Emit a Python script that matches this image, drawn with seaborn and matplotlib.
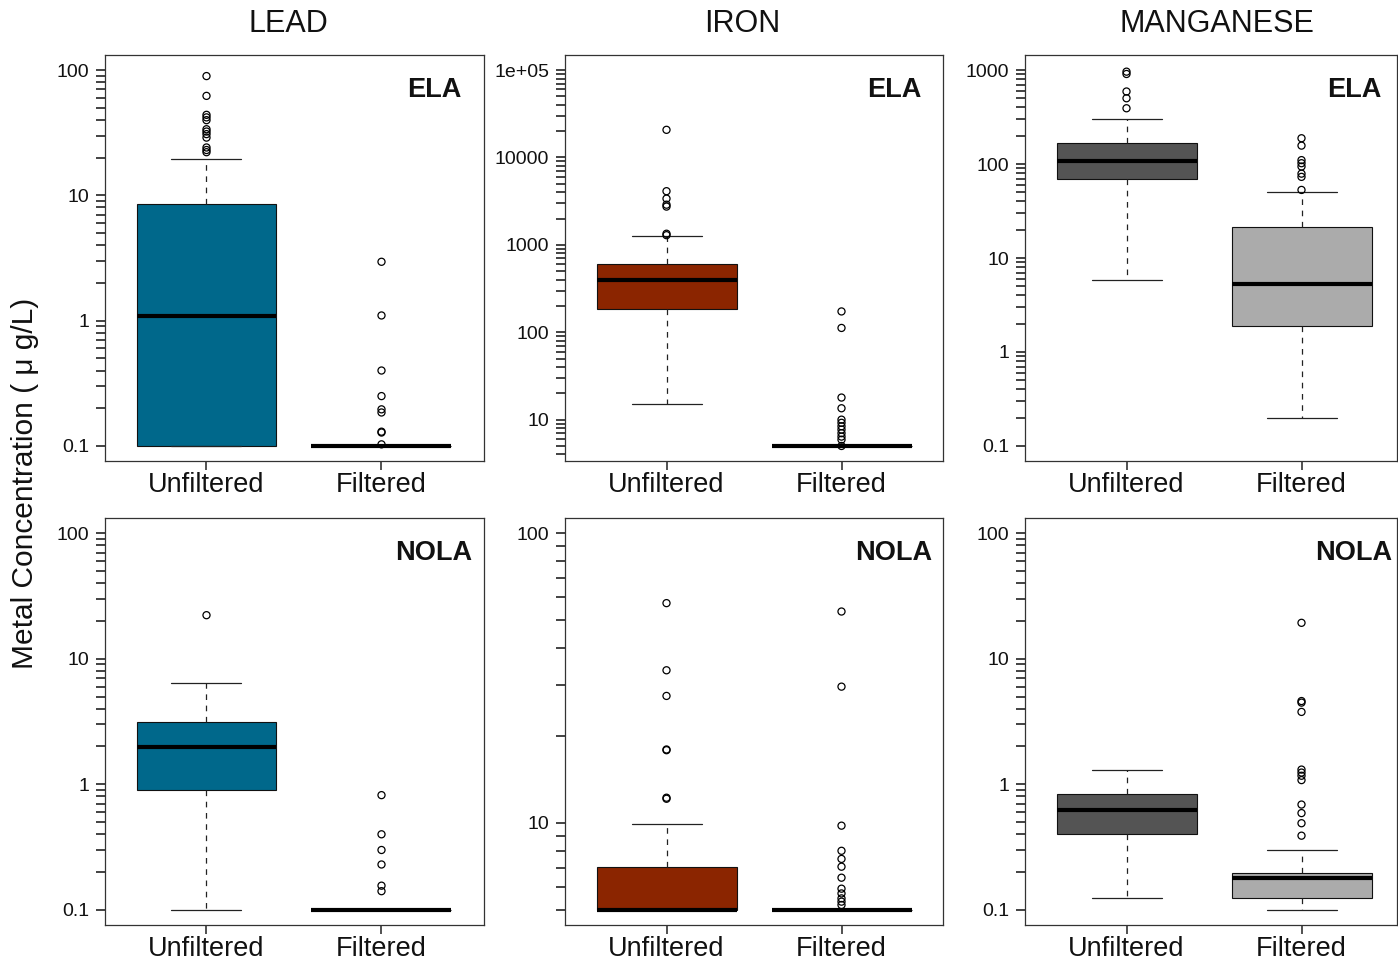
import numpy as np
import matplotlib
matplotlib.use("Agg")
import matplotlib.pyplot as plt
import matplotlib.ticker as mticker
import matplotlib.transforms as mtransforms
import seaborn as sns

# ---------------- data ----------------
categories = ["Unfiltered", "Filtered"]
metals = ["LEAD", "IRON", "MANGANESE"]
sites = ["ELA", "NOLA"]

# box statistics: [lower whisker, Q1, median, Q3, upper whisker]  (ug/L)
lead_ela_unf = [0.1, 0.1, 1.08, 8.6, 19.4]
lead_ela_unf_out = [89.5, 62.2, 43.9, 41.9, 39.8, 33.7, 32.3, 30.8, 28.9, 24.1, 23.0, 22.1]
lead_ela_fil = [0.1, 0.1, 0.1, 0.1, 0.1]
lead_ela_fil_out = [2.95, 1.1, 0.40, 0.25, 0.196, 0.185, 0.13, 0.128, 0.103]

iron_ela_unf = [15, 184, 396, 611, 1268]
iron_ela_unf_out = [20700, 4110, 3380, 2880, 2740, 1340, 1290]
iron_ela_fil = [5, 5, 5, 5, 5]
iron_ela_fil_out = [173, 112, 17.9, 13.5, 10, 9.2, 8.4, 7.7, 7.0, 6.4, 5.9, 5.0]

mn_ela_unf = [5.8, 69, 109, 169, 298]
mn_ela_unf_out = [961, 908, 591, 501, 392]
mn_ela_fil = [0.197, 1.9, 5.25, 21.5, 49.9]
mn_ela_fil_out = [188, 157, 110, 102, 94, 79, 73, 53]

lead_nola_unf = [0.1, 0.9, 1.98, 3.16, 6.46]
lead_nola_unf_out = [22.2]
lead_nola_fil = [0.1, 0.1, 0.1, 0.1, 0.1]
lead_nola_fil_out = [0.82, 0.40, 0.30, 0.23, 0.156, 0.141]

iron_nola_unf = [5, 5, 5, 7.05, 9.9]
iron_nola_unf_out = [57.3, 33.6, 27.4, 17.9, 17.8, 12.2, 12.1]
iron_nola_fil = [5, 5, 5, 5, 5]
iron_nola_fil_out = [53.6, 29.5, 9.77, 8.0, 7.5, 7.05, 6.46, 5.92, 5.7, 5.48, 5.34, 5.2]

mn_nola_unf = [0.124, 0.40, 0.63, 0.84, 1.30]
mn_nola_unf_out = []
mn_nola_fil = [0.1, 0.124, 0.178, 0.197, 0.30]
mn_nola_fil_out = [19.3, 4.6, 4.47, 3.77, 1.31, 1.24, 1.17, 1.08, 0.69, 0.59, 0.49, 0.39]

panel_stats = {
    ("ELA", "LEAD"): [(lead_ela_unf, lead_ela_unf_out), (lead_ela_fil, lead_ela_fil_out)],
    ("ELA", "IRON"): [(iron_ela_unf, iron_ela_unf_out), (iron_ela_fil, iron_ela_fil_out)],
    ("ELA", "MANGANESE"): [(mn_ela_unf, mn_ela_unf_out), (mn_ela_fil, mn_ela_fil_out)],
    ("NOLA", "LEAD"): [(lead_nola_unf, lead_nola_unf_out), (lead_nola_fil, lead_nola_fil_out)],
    ("NOLA", "IRON"): [(iron_nola_unf, iron_nola_unf_out), (iron_nola_fil, iron_nola_fil_out)],
    ("NOLA", "MANGANESE"): [(mn_nola_unf, mn_nola_unf_out), (mn_nola_fil, mn_nola_fil_out)],
}

# axis ranges (data limits), labelled ticks, minor tick span
axis_cfg = {
    ("ELA", "LEAD"): ((0.1, 100), [0.1, 1, 10, 100], ["0.1", "1", "10", "100"], (0.1, 100)),
    ("ELA", "IRON"): ((5, 1e5), [10, 100, 1000, 10000, 1e5], ["10", "100", "1000", "10000", "1e+05"], (4, 1e5)),
    ("ELA", "MANGANESE"): ((0.1, 1000), [0.1, 1, 10, 100, 1000], ["0.1", "1", "10", "100", "1000"], (0.1, 1000)),
    ("NOLA", "LEAD"): ((0.1, 100), [0.1, 1, 10, 100], ["0.1", "1", "10", "100"], (0.1, 100)),
    ("NOLA", "IRON"): ((5, 100), [10, 100], ["10", "100"], (5, 100)),
    ("NOLA", "MANGANESE"): ((0.1, 100), [0.1, 1, 10, 100], ["0.1", "1", "10", "100"], (0.1, 100)),
}

metal_colors = {
    "LEAD": ["#00688B", "#00688B"],
    "IRON": ["#8B2500", "#8B2500"],
    "MANGANESE": ["#545454", "#ABABAB"],
}

# ---------------- style ----------------
sns.set_theme(style="ticks")
plt.rcParams["font.family"] = ["Liberation Sans", "DejaVu Sans"]

W, H = 1398, 960
fig = plt.figure(figsize=(W / 100, H / 100), dpi=100)

col_left = [105, 565, 1025]
col_right = [484, 943, 1397]
row_top = [55, 518]
row_bottom = [461, 925]
px_per_unit = 175.0
title_x = [288, 742, 1217]


def minor_ticks(lo, hi):
    out = []
    for d in range(int(np.floor(np.log10(lo))) - 1, int(np.ceil(np.log10(hi))) + 1):
        for k in range(2, 10):
            v = k * 10.0 ** d
            if lo * 0.999 <= v <= hi * 1.001:
                out.append(v)
    return out


positions = [1, 2]
for r, site in enumerate(sites):
    for c, metal in enumerate(metals):
        l, rt = col_left[c], col_right[c]
        t, b = row_top[r], row_bottom[r]
        ax = fig.add_axes([l / W, 1 - b / H, (rt - l) / W, (b - t) / H])
        ax.set_yscale("log")

        stats = []
        fx, fy = [], []
        for i, (s, outl) in enumerate(panel_stats[(site, metal)]):
            stats.append(dict(whislo=s[0], q1=s[1], med=s[2], q3=s[3], whishi=s[4], fliers=[]))
            fx += [positions[i]] * len(outl)
            fy += list(outl)

        bp = ax.bxp(stats, positions=positions, widths=0.8, capwidths=0.4,
                    patch_artist=True, showfliers=False,
                    boxprops=dict(edgecolor="#111111", linewidth=0.8),
                    medianprops=dict(color="black", linewidth=3.0, solid_capstyle="butt"),
                    whiskerprops=dict(color="#222222", linewidth=0.9, linestyle=(0, (4.5, 4.5))),
                    capprops=dict(color="#222222", linewidth=0.9))
        for patch, col in zip(bp["boxes"], metal_colors[metal]):
            patch.set_facecolor(col)

        if len(fy):
            sns.scatterplot(x=fx, y=fy, ax=ax, marker="o", s=26, facecolor="none",
                            edgecolor="black", linewidth=0.9, zorder=5, legend=False)

        (lo, hi), majors, labels, (mlo, mhi) = axis_cfg[(site, metal)]
        span = np.log10(hi) - np.log10(lo)
        ax.set_ylim(10 ** (np.log10(lo) - 0.04 * span), 10 ** (np.log10(hi) + 0.04 * span))
        ax.set_xlim(0.42, 0.42 + (rt - l) / px_per_unit)

        ax.yaxis.set_major_locator(mticker.FixedLocator(majors))
        ax.yaxis.set_major_formatter(mticker.FixedFormatter(labels))
        ax.yaxis.set_minor_locator(mticker.FixedLocator(minor_ticks(mlo, mhi)))
        ax.yaxis.set_minor_formatter(mticker.NullFormatter())
        ax.set_xticks(positions)
        ax.set_xticklabels(categories)

        ax.tick_params(axis="y", which="both", left=True, direction="out", length=6.5,
                       width=1.2, color="#222222", pad=5, labelsize=14, labelcolor="#111111")
        ax.tick_params(axis="x", which="major", bottom=True, direction="out", length=6.5,
                       width=1.1, color="#222222", pad=1.5, labelsize=19.5, labelcolor="#111111")
        ax.tick_params(axis="x", which="minor", bottom=False)
        for sp in ax.spines.values():
            sp.set_visible(True)
            sp.set_color("#333333")
            sp.set_linewidth(0.9)
        ax.set_xlabel("")
        ax.set_ylabel("")

        trans = mtransforms.blended_transform_factory(ax.transData, ax.transAxes)
        ax.text(2.3, 0.897, site, transform=trans, ha="center", va="baseline",
                fontsize=19.5, fontweight="bold", color="#111111")

        if r == 0:
            fig.text(title_x[c] / W, 1 - 32 / H, metal, ha="center", va="baseline",
                     fontsize=22, color="#111111")

fig.text(25 / W, 1 - 483 / H, "Metal Concentration ( \u03bc g/L)", rotation=90,
         ha="center", va="center", fontsize=21.5, color="#111111")

fig.savefig("out.png", dpi=100)
